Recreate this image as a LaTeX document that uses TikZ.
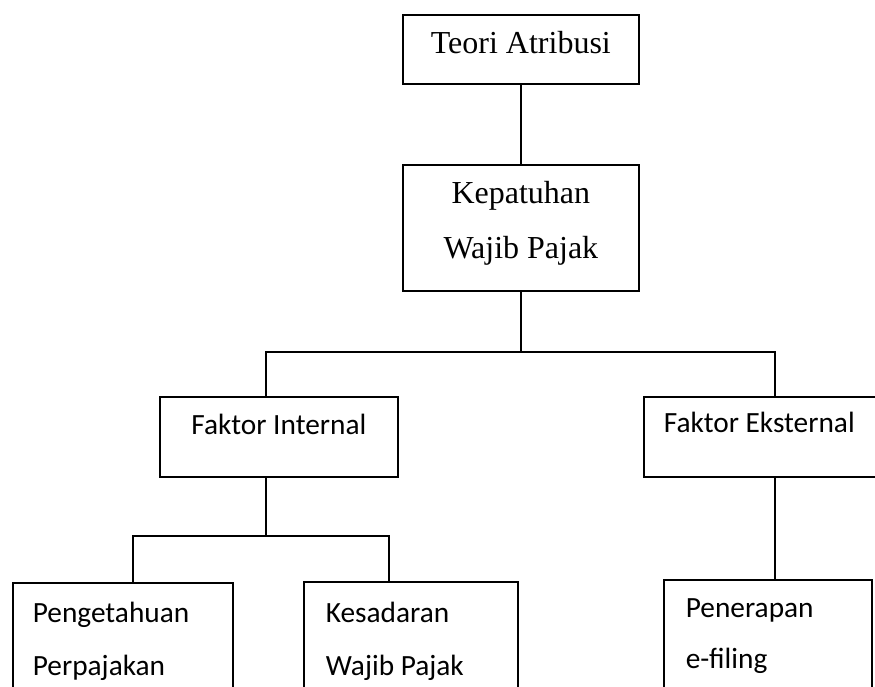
\documentclass[tikz,border=0pt]{standalone}
\usepackage{fontspec}
\setmainfont{Liberation Serif}
\newfontfamily\calibri{Carlito}
\usetikzlibrary{calc}

\begin{document}
\begin{tikzpicture}[
  x=0.75pt, y=-0.75pt,
  box/.style={rectangle, draw=black, line width=1.3pt, anchor=north west, inner ysep=0pt},
  serifbox/.style={box, font=\fontsize{24}{41.25}\selectfont, align=flush center, inner xsep=6pt},
  sansbox/.style={box, font=\calibri\fontsize{22}{39.5}\selectfont},
  link/.style={line width=1.3pt},
]

\useasboundingbox (0,0) rectangle (875,686);

% theory and main variable
\node[serifbox, text width=165pt, text height=29.25pt, text depth=22.5pt] (teori) at (402,14) {Teori Atribusi};
\node[serifbox, text width=165pt, text height=29.25pt, text depth=65.25pt] (patuh) at (402,164) {Kepatuhan\\Wajib Pajak};

% factors
\node[sansbox, align=flush center, inner xsep=6pt, text width=166.5pt, text height=28.5pt, text depth=31.5pt] (intern) at (159,396) {Faktor Internal};
\node[sansbox, align=flush left, inner xsep=15pt, text width=145.5pt, text height=27pt, text depth=33pt] (extern) at (643,396) {Faktor Eksternal};

% variables (cut off at the bottom)
\node[sansbox, align=flush left, inner xsep=15pt, text width=135pt, text height=30pt, text depth=73.5pt] (tahu) at (12,582) {Pengetahuan\\Perpajakan};
\node[sansbox, align=flush left, inner xsep=16.5pt, text width=127.5pt, text height=30.75pt, text depth=73.5pt] (sadar) at (303,581) {Kesadaran\\Wajib Pajak};
\node[sansbox, font=\calibri\fontsize{22}{38.25}\selectfont, align=flush left, inner xsep=16.5pt, text width=123pt, text height=28.5pt, text depth=75pt] (terap) at (663,579) {Penerapan\\e-filing};

% junctions
\coordinate (busL) at (266,352);
\coordinate (busR) at (775,352);
\coordinate (subL) at (133,536);
\coordinate (subR) at (389,536);

% connectors
\draw[link] (teori) -- (patuh);
\draw[link] (patuh.south) -- (patuh.south |- busL);
\draw[link] (intern.north -| busL) -- (busL) -- (busR) -- (extern.north -| busR);
\draw[link] (intern.south -| busL) -- (busL |- subL);
\draw[link] (tahu.north -| subL) -- (subL) -- (subR) -- (sadar.north -| subR);
\draw[link] (extern.south -| busR) -- (terap.north -| busR);

\end{tikzpicture}
\end{document}
